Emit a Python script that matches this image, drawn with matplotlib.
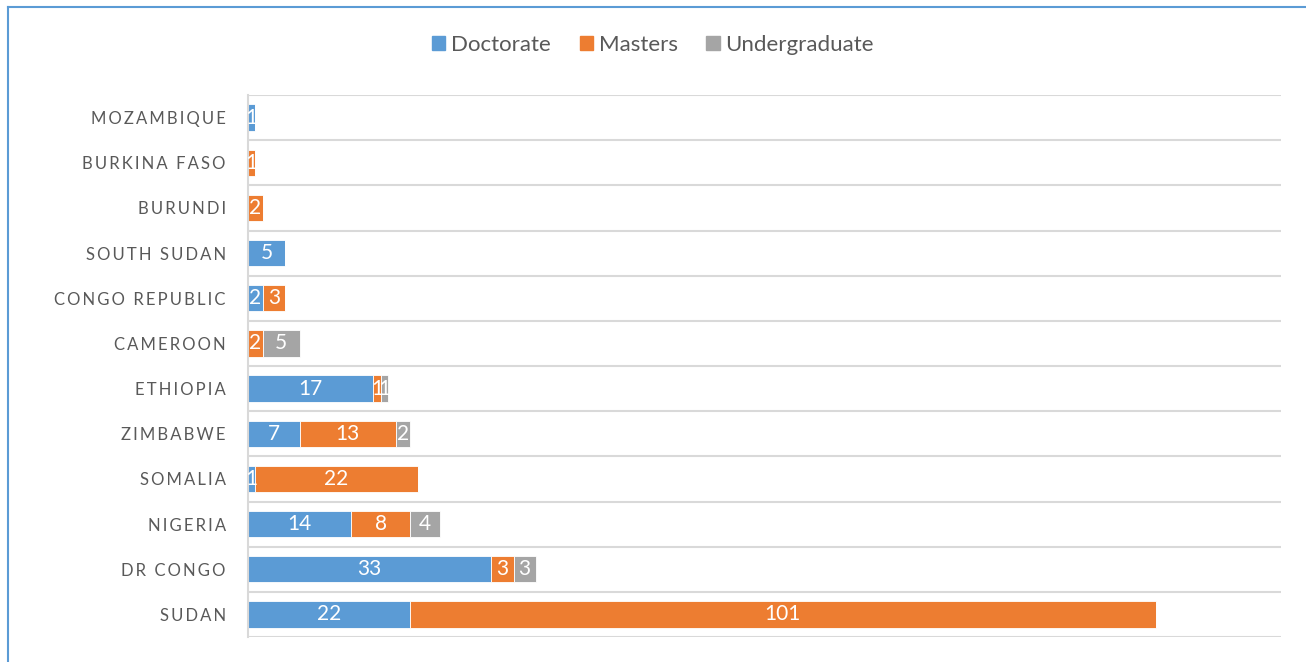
import numpy as np
import matplotlib
matplotlib.use("Agg")
import matplotlib.pyplot as plt
from matplotlib.lines import Line2D

# categories from bottom to top
countries = ["SUDAN", "DR CONGO", "NIGERIA", "SOMALIA", "ZIMBABWE", "ETHIOPIA",
             "CAMEROON", "CONGO REPUBLIC", "SOUTH SUDAN", "BURUNDI",
             "BURKINA FASO", "MOZAMBIQUE"]
doctorate = [22, 33, 14, 1, 7, 17, 0, 2, 5, 0, 0, 1]
masters = [101, 3, 8, 22, 13, 1, 2, 3, 0, 2, 1, 0]
undergrad = [0, 3, 4, 0, 2, 1, 5, 0, 0, 0, 0, 0]

series = [("Doctorate", doctorate, "#5B9BD5"),
          ("Masters", masters, "#ED7D31"),
          ("Undergraduate", undergrad, "#A5A5A5")]

plt.rcParams['font.family'] = ['Lato', 'DejaVu Sans']

fig = plt.figure(figsize=(13.06, 6.62), dpi=100)
ax = fig.add_axes([248 / 1306, 1 - 637 / 662, (1281 - 248) / 1306, (637 - 95) / 662])

y = np.arange(len(countries))
left = np.zeros(len(countries))
for name, vals, col in series:
    vals = np.array(vals, dtype=float)
    bars = ax.barh(y, vals, left=left, height=0.58, color=col,
                   edgecolor="white", linewidth=0.6, label=name)
    for b, v in zip(bars, vals):
        if v > 0:
            ax.text(b.get_x() + b.get_width() / 2, b.get_y() + b.get_height() / 2,
                    f"{int(v)}", ha="center", va="center", color="white",
                    fontsize=15)
    left += vals

ax.set_xlim(0, 140)
ax.set_ylim(-0.5, len(countries) - 0.5)

# gridlines between categories
for g in np.arange(-0.5, len(countries), 1.0):
    ax.axhline(g, color="#D9D9D9", linewidth=1.5, zorder=0)

ax.set_xticks([])
ax.set_yticks(y)
# wide letter spacing like the original labels
spaced = ["\u2009".join(list(c)).replace("\u2009 \u2009", "  ") for c in countries]
ax.set_yticklabels(spaced, fontsize=12, color="#595959")
ax.tick_params(axis="y", length=0, pad=16)
for s in ["top", "right", "bottom"]:
    ax.spines[s].set_visible(False)
ax.spines["left"].set_color("#D9D9D9")
ax.spines["left"].set_linewidth(1.5)

handles = [plt.Rectangle((0, 0), 1, 1, color=c) for _, _, c in series]
fig.legend(handles, [n for n, _, _ in series], loc="center",
           bbox_to_anchor=(0.5, 1 - 45 / 662), ncol=3, frameon=False,
           fontsize=16, labelcolor="#595959", handlelength=0.6,
           handleheight=0.6, handletextpad=0.25, columnspacing=1.3)

# blue frame around chart
fig.add_artist(Line2D([8 / 1306, 8 / 1306], [0, 1 - 7 / 662],
                      color="#5B9BD5", linewidth=1.5, transform=fig.transFigure))
fig.add_artist(Line2D([8 / 1306, 1], [1 - 7 / 662, 1 - 7 / 662],
                      color="#5B9BD5", linewidth=1.5, transform=fig.transFigure))

fig.savefig("out.png", dpi=100)
